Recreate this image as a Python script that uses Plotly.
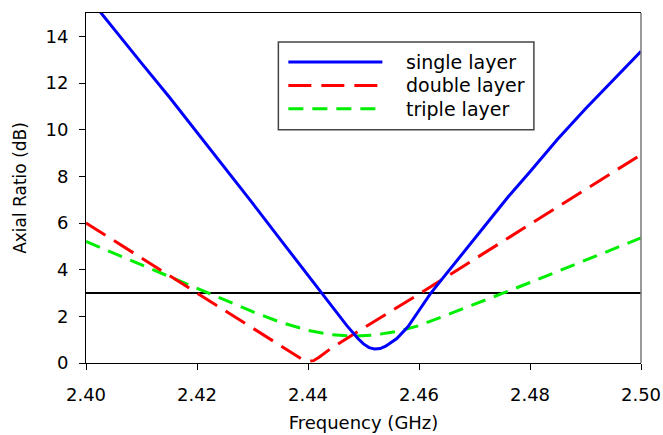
import plotly.graph_objects as go

# ---- data ----
single_f = [2.400, 2.405, 2.410, 2.415, 2.420, 2.425, 2.430, 2.435, 2.440, 2.4425,
            2.445, 2.447, 2.449, 2.450, 2.451, 2.452, 2.453, 2.454, 2.456, 2.458,
            2.460, 2.462, 2.464, 2.468, 2.472, 2.476, 2.480, 2.485, 2.490, 2.495, 2.500]
single_ar = [15.8, 14.3, 12.85, 11.4, 9.9, 8.4, 6.85, 5.3, 3.75, 3.0,
             2.2, 1.6, 1.05, 0.82, 0.66, 0.6, 0.62, 0.72, 1.05, 1.55,
             2.25, 2.95, 3.55, 4.75, 5.95, 7.1, 8.2, 9.6, 10.9, 12.15, 13.36]

double_f = [2.400, 2.410, 2.420, 2.430, 2.435, 2.438, 2.439, 2.440, 2.441, 2.442,
            2.444, 2.450, 2.460, 2.470, 2.480, 2.490, 2.500]
double_ar = [6.0, 4.5, 3.0, 1.5, 0.75, 0.3, 0.15, 0.07, 0.1, 0.25,
             0.6, 1.5, 2.95, 4.45, 5.95, 7.45, 8.93]

triple_f = [2.400, 2.410, 2.420, 2.430, 2.435, 2.440, 2.444, 2.448, 2.452, 2.456,
            2.460, 2.465, 2.470, 2.475, 2.480, 2.490, 2.500]
triple_ar = [5.21, 4.2, 3.2, 2.2, 1.75, 1.4, 1.22, 1.15, 1.2, 1.35,
             1.6, 2.05, 2.5, 2.98, 3.45, 4.4, 5.36]

threshold_f = [2.40, 2.50]
threshold_ar = [3, 3]

x_ticks = [2.40, 2.42, 2.44, 2.46, 2.48, 2.50]
y_ticks = [0, 2, 4, 6, 8, 10, 12, 14]

series_names = ["single layer", "double layer", "triple layer"]

FONT = "DejaVu Sans, Liberation Sans, Arial, sans-serif"
BLUE = "#0000ff"
RED = "#ff0000"
GREEN = "#00ee00"
DASH_RED = "23px,10px"
DASH_GREEN = "15px,9px"

fig = go.Figure()
fig.add_trace(go.Scatter(x=threshold_f, y=threshold_ar, mode="lines",
                         line=dict(color="black", width=2), showlegend=False))
fig.add_trace(go.Scatter(x=triple_f, y=triple_ar, mode="lines", name=series_names[2],
                         line=dict(color=GREEN, width=3, dash=DASH_GREEN)))
fig.add_trace(go.Scatter(x=double_f, y=double_ar, mode="lines", name=series_names[1],
                         line=dict(color=RED, width=3, dash=DASH_RED)))
fig.add_trace(go.Scatter(x=single_f, y=single_ar, mode="lines", name=series_names[0],
                         line=dict(color=BLUE, width=3)))

# manual legend box (paper coordinates)
fig.add_shape(type="rect", xref="paper", yref="paper", x0=0.3466, x1=0.807, y0=0.6666, y1=0.917,
              line=dict(color="#444444", width=1.5), fillcolor="white", layer="below")
rows = [0.86, 0.793, 0.7266]
styles = [(BLUE, "solid"), (RED, DASH_RED), (GREEN, DASH_GREEN)]
for name, yy, (c, d) in zip(series_names, rows, styles):
    fig.add_shape(type="line", xref="paper", yref="paper", x0=0.3646, x1=0.534, y0=yy, y1=yy,
                  line=dict(color=c, width=3, dash=d))
    fig.add_annotation(xref="paper", yref="paper", x=0.5737, y=yy, text=name, showarrow=False,
                       xanchor="left", yanchor="middle", font=dict(family=FONT, size=19, color="black"))

# gray right border
fig.add_shape(type="line", xref="paper", yref="paper", x0=1, x1=1, y0=0, y1=1,
              line=dict(color="#777777", width=1.5))

fig.update_layout(
    width=663, height=435,
    margin=dict(l=86, r=22, t=13, b=72),
    paper_bgcolor="white", plot_bgcolor="white",
    showlegend=False,
    font=dict(family=FONT, size=18, color="black"),
)
fig.update_xaxes(range=[2.40, 2.50], tickvals=x_ticks, tickformat=".2f", automargin=False,
                 showgrid=False, zeroline=False, showline=True, linecolor="black", linewidth=1,
                 mirror=True, ticks="outside", ticklen=6, tickcolor="black", ticklabelstandoff=9,
                 tickfont=dict(family=FONT, size=18),
                 title=dict(text="Frequency (GHz)", font=dict(family=FONT, size=18), standoff=12))
fig.update_yaxes(range=[0, 15], tickvals=y_ticks, automargin=False,
                 showgrid=False, zeroline=False, showline=True, linecolor="black", linewidth=1,
                 ticks="outside", ticklen=6, tickcolor="black", ticklabelstandoff=7,
                 tickfont=dict(family=FONT, size=18),
                 title=dict(text="Axial Ratio (dB)", font=dict(family=FONT, size=17), standoff=14))

fig.write_html("out.html", config={"displayModeBar": False},
               post_script="document.body.style.margin='0';")
